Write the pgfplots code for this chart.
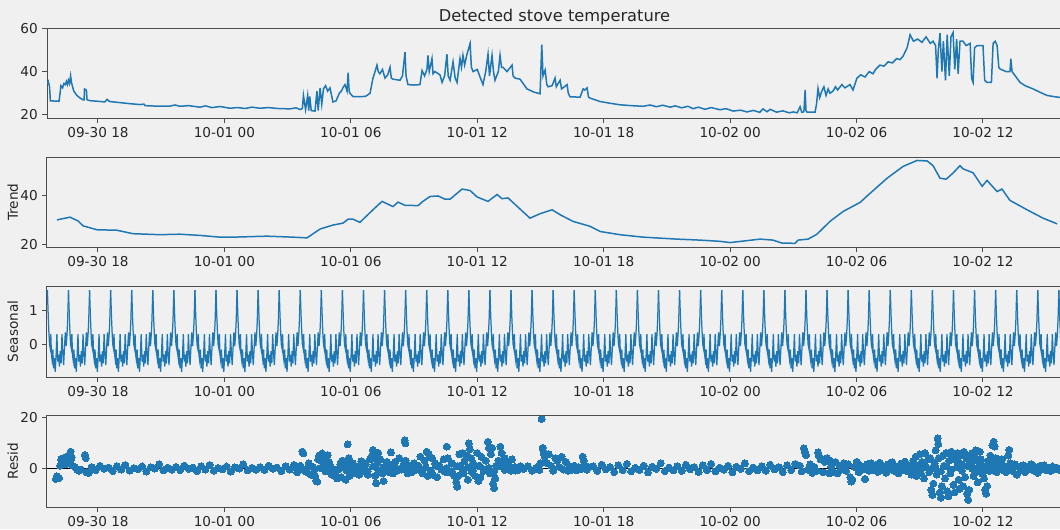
\documentclass[border=0pt]{standalone}
\usepackage{fontspec}
\setmainfont{DejaVu Sans}
\usepackage{pgfplots}
\usepackage{pgfplotstable}
\pgfplotsset{compat=1.18}
\definecolor{mplblue}{HTML}{1F77B4}
\definecolor{bgcol}{HTML}{F0F0F0}
\definecolor{spinecol}{HTML}{4D4D4D}
\definecolor{labcol}{HTML}{262626}
\newcommand{\ticksize}{\fontsize{10.9pt}{13pt}\selectfont}
\newcommand{\titlesize}{\fontsize{13pt}{15.6pt}\selectfont}

\pgfplotstableread{
t s
0.000 1.58
0.040 0.80
0.070 0.35
0.100 0.00
0.130 -0.10
0.160 0.30
0.190 -0.30
0.220 -0.45
0.260 -0.15
0.290 -0.70
0.330 -0.40
0.370 -0.80
0.410 -0.35
0.450 0.30
0.490 -0.50
0.530 -0.30
0.570 -0.65
0.610 -0.20
0.650 -0.55
0.690 0.30
0.730 -0.25
0.770 -0.60
0.810 -0.10
0.850 0.35
0.890 -0.05
0.930 0.30
0.960 0.70
1.000 1.58
}\seasonal

\pgfplotstableread{
h v
-2.42 34.5
-2.36 35.5
-2.30 33
-2.26 26.5
-2.00 26.4
-1.85 26.3
-1.80 30
-1.76 33.5
-1.68 32.5
-1.62 34.5
-1.55 34
-1.50 35.5
-1.45 34
-1.40 36
-1.35 34.5
-1.30 38
-1.26 35
-1.15 31
-1.00 29
-0.85 27.8
-0.71 27
-0.66 27
-0.64 32
-0.55 31.5
-0.52 27
-0.38 26.6
0.00 26.3
0.33 26.0
0.43 27.2
0.55 26.2
1.04 25.7
1.52 25.2
2.00 24.8
2.18 25.0
2.23 24.3
2.70 24.1
3.42 24.1
3.65 24.6
3.90 24.0
4.30 24.3
4.84 23.6
5.10 24.2
5.40 23.4
5.80 23.9
6.26 23.1
6.60 23.4
7.00 23.0
7.30 23.6
7.69 23.1
8.10 23.4
8.50 23.0
8.80 22.9
9.11 22.8
9.40 23.3
9.59 22.5
9.70 23.0
9.75 29.0
9.85 22.5
9.95 29
10.00 22
10.05 28.5
10.12 22
10.30 21.8
10.39 31
10.45 22
10.54 32.5
10.62 25
10.70 32
10.80 33.5
10.90 31
11.01 32.5
11.15 26
11.30 26.5
11.45 30
11.55 31
11.65 33
11.72 34
11.82 31
11.87 39.5
11.92 31
11.96 30
12.10 28.5
12.43 28.4
12.70 28.6
12.91 30
13.05 37
13.15 40
13.24 43
13.30 40
13.38 39
13.50 41
13.62 37
13.75 38.5
13.86 42
13.92 37
14.00 36.5
14.33 36
14.45 38
14.57 49
14.62 38
14.71 34
15.00 33.8
15.28 34
15.38 40.5
15.50 38
15.61 41
15.66 47.5
15.72 40
15.85 46
15.90 39
15.99 40
16.23 38.5
16.33 35
16.45 38
16.56 48
16.62 38
16.71 36
16.85 44.5
16.95 37
17.04 35
17.18 46
17.25 42
17.32 47.5
17.40 43
17.51 48
17.66 53
17.72 42
17.80 40
18.00 41
18.13 37.5
18.27 34
18.40 40
18.51 48
18.58 38
18.70 47.5
18.77 40
18.84 36
19.00 40
19.08 47.5
19.15 42
19.22 42
19.41 40
19.65 43
19.70 38
19.79 37
20.03 36.5
20.36 32
20.70 30.5
20.98 29.8
21.06 52.4
21.12 38
21.22 40.7
21.30 34
21.36 33
21.55 33.5
21.69 37
21.75 33
21.93 36
22.00 32
22.26 34
22.32 30
22.40 28.4
22.88 28.2
23.02 32
23.10 31.5
23.21 32.5
23.28 28.2
23.35 27.8
23.83 26.2
24.30 25.4
24.77 24.7
25.30 24.3
25.87 24.0
26.20 24.6
26.50 23.8
26.80 24.5
27.15 23.6
27.40 24.2
27.70 23.3
28.00 24.0
28.24 22.9
28.50 23.6
28.80 22.6
29.10 23.4
29.52 22.4
29.80 22.9
30.14 21.8
30.50 22.2
30.80 21.4
31.10 22.1
31.40 21.2
31.56 22.8
31.75 21.5
31.90 22.6
32.20 21.3
32.50 21.9
32.80 21.0
33.00 21.4
33.18 21.0
33.32 23.8
33.40 21.2
33.50 21.5
33.56 31.5
33.60 22
33.65 21.3
34.03 21.3
34.10 25
34.17 32.2
34.25 28
34.35 31
34.45 33
34.55 29
34.65 32
34.74 30
34.88 31
35.00 33
35.10 31.5
35.30 34
35.45 32.5
35.69 34
35.83 31.5
35.95 35
36.02 37
36.20 38.5
36.40 37.5
36.60 40
36.78 39
36.90 41
37.11 43
37.30 42.5
37.50 44.5
37.70 44
37.90 46
38.06 45.5
38.20 47
38.40 51
38.54 57
38.70 54
38.90 55
39.10 53.5
39.30 56
39.50 53
39.63 54
39.75 52
39.82 36.9
39.88 50
39.96 57.7
40.05 40
40.12 54
40.22 36
40.30 57
40.40 38
40.48 56
40.58 58
40.66 41
40.75 55
40.82 39
40.91 54
41.05 54
41.20 52
41.39 53
41.46 37
41.53 35
41.60 51
41.72 52
42.00 52
42.08 36
42.19 35
42.40 35
42.48 53
42.58 54
42.67 52
42.75 42
42.81 41.2
43.10 40
43.28 40
43.32 46
43.38 40
43.76 35
44.00 33.5
44.38 32
44.70 30.5
45.04 29
45.40 28.4
45.75 28
}\observed

\pgfplotstableread{
h v
-1.95 30.1
-1.33 31.2
-0.95 29.7
-0.71 27.7
-0.05 26.1
0.90 25.9
1.66 24.5
2.94 24.1
3.89 24.3
4.84 23.8
5.79 23.1
6.41 23.1
8.02 23.5
9.25 23.1
9.92 22.8
10.54 26.4
11.15 28.0
11.63 28.8
11.87 30.4
12.10 30.4
12.43 29.1
13.05 34.2
13.48 37.6
14.00 35.5
14.24 37.3
14.57 36.0
15.19 35.9
15.42 37.6
15.76 39.6
16.14 39.8
16.47 38.5
16.71 38.5
17.28 42.6
17.66 42.0
17.99 39.4
18.51 37.6
18.94 40.4
19.17 38.7
19.46 39.0
19.89 35.6
20.50 30.8
20.98 32.6
21.55 34.2
21.93 32.2
22.54 29.5
23.35 27.5
23.83 25.4
24.77 24.1
25.87 23.1
27.48 22.3
28.57 21.9
29.52 21.4
30.00 20.9
31.42 22.3
32.04 21.9
32.46 20.7
33.08 20.6
33.22 21.9
33.70 22.3
34.12 24.3
34.74 29.5
35.36 33.5
36.17 37.2
36.50 39.8
37.45 47.0
38.21 51.8
38.87 54.2
39.35 54.0
39.63 52.1
39.96 47.0
40.25 46.6
40.58 49.1
40.91 52.1
41.05 50.8
41.53 49.2
41.96 43.7
42.19 46.1
42.67 41.6
42.90 42.6
43.28 38.0
44.09 34.2
44.85 30.8
45.52 28.5
}\trend

\pgfplotsset{
  dec/.style={
    scale only axis, width=812pt, anchor=north west,
    xmin=-2.42, xmax=45.75,
    xtick={0,6,12,18,24,30,36,42},
    xticklabels={09-30 18,10-01 00,10-01 06,10-01 12,10-01 18,10-02 00,10-02 06,10-02 12},
    tick pos=left, tick align=outside,
    major tick length=3.8pt,
    axis line style={spinecol, line width=0.8pt},
    major tick style={spinecol, line width=0.8pt},
    tick label style={font=\ticksize, text=labcol},
    /pgf/number format/assume math mode=true,
    every axis y label/.style={at={(rel axis cs:0,0.5)}, rotate=90, anchor=center, yshift=27.4pt, font=\ticksize, text=labcol},
    axis background/.style={fill=bgcol},
  }
}

\begin{document}
\begin{tikzpicture}
\fill[bgcol] (0pt,0pt) rectangle (848pt,-423.2pt);

% Panel 1: observed
\begin{axis}[dec, at={(37.6pt,-22.4pt)}, height=72pt,
  ymin=18.6, ymax=60.1, ytick={20,40,60},
  title={Detected stove temperature},
  title style={at={(rel axis cs:0.5,1)}, anchor=center, yshift=2.5pt, font=\titlesize, text=labcol}]
\addplot[mplblue, line width=1.2pt] table[x=h, y=v] {\observed};
\end{axis}

% Panel 2: trend
\begin{axis}[dec, at={(37.6pt,-125.6pt)}, height=72.4pt,
  ymin=18.9, ymax=55.6, ytick={20,40}, ylabel={Trend}]
\addplot[mplblue, line width=1.2pt] table[x=h, y=v] {\trend};
\end{axis}

% Panel 3: seasonal
\begin{axis}[dec, at={(37.6pt,-228.8pt)}, height=72.8pt,
  ymin=-0.95, ymax=1.70, ytick={0,1}, ylabel={Seasonal}]
\pgfplotsinvokeforeach{-3,...,45}{
  \addplot[mplblue, line width=1.0pt] table[x expr=\thisrow{t}+#1+0.6, y=s] {\seasonal};
}
\end{axis}

% Panel 4: residual
\begin{axis}[dec, at={(37.6pt,-332pt)}, height=73.6pt,
  ymin=-15.2, ymax=20.9, ytick={0,20}, ylabel={Resid}]
\addplot[black, line width=1pt] coordinates {(-2.42,0) (45.75,0)};
\addplot[color=mplblue, only marks, mark=*, mark size=2.8pt, mark options={fill=mplblue, draw=mplblue, line width=0pt}] coordinates {
(-2.0,-4.2) (-1.95,-3.2) (-1.85,-3.8) (-1.80,1.0) (-1.75,3.5) (-1.70,2.5) (-1.65,4.0) (-1.60,3.0) (-1.55,1.5) (-1.50,4.5)
(-1.45,3.5) (-1.40,5.0) (-1.35,2.5) (-1.30,6.5) (-1.25,4.2) (-1.20,1.0) (-1.10,0.5) (-1.00,-0.5) (-0.90,-1.0) (-0.80,-0.5)
(-0.62,5.2) (-0.58,4.0) (-0.55,-1.5) (-0.45,-1.8) (-0.35,-0.8)
(-0.3,0.5) (-0.1,-0.7) (0.1,1.0) (0.3,-0.2) (0.5,0.3) (0.7,-1.1) (0.9,0.8) (1.1,-0.5) (1.3,1.3) (1.5,-0.9)
(1.7,0.1) (1.9,-0.4) (2.1,0.7) (2.3,-1.3) (2.5,0.4) (2.7,-0.1) (2.9,1.5) (3.1,-0.8) (3.3,0.2) (3.5,-0.6)
(3.7,0.5) (3.9,-0.7) (4.1,1.0) (4.3,-0.2) (4.5,0.3) (4.7,-1.1) (4.9,0.8) (5.1,-0.5) (5.3,1.3) (5.5,-0.9)
(5.7,0.1) (5.9,-0.4) (6.1,0.7) (6.3,-1.3) (6.5,0.4) (6.7,-0.1) (6.9,1.5) (7.1,-0.8) (7.3,0.2) (7.5,-0.6)
(7.7,0.5) (7.9,-0.7) (8.1,1.0) (8.3,-0.2) (8.5,0.3) (8.7,-1.1) (8.9,0.8) (9.1,-0.5) (9.3,1.3) (9.45,-1.6)
(9.55,0.4) (9.8,-0.9) (10.05,0.9) (10.3,-0.3) (10.55,0.1) (10.8,-1.2) (11.05,0.7) (11.3,-0.6) (11.55,0.4) (11.8,-0.9)
(12.05,0.9) (12.3,-0.3) (12.55,0.1) (12.8,-1.2) (13.05,0.7) (13.3,-0.6) (13.55,0.4) (13.8,-0.9) (14.05,0.9) (14.3,-0.3)
(14.55,0.1) (14.8,-1.2) (15.05,0.7) (15.3,-0.6) (15.55,0.4) (15.8,-0.9) (16.05,0.9) (16.3,-0.3) (16.55,0.1) (16.8,-1.2)
(17.05,0.7) (17.3,-0.6) (17.55,0.4) (17.8,-0.9) (18.05,0.9) (18.3,-0.3) (18.55,0.1) (18.8,-1.2) (19.05,0.7) (19.3,-0.6)
(19.55,0.4) (19.8,-0.9) (20.05,0.9)
(9.6,1.0) (9.7,6.5) (9.75,5.8) (9.8,-0.5) (9.9,-1.5) (10.0,2.0) (10.1,-2.5) (10.2,0.5) (10.3,-3.0) (10.35,-4.8)
(10.4,-5.2) (10.45,3.5) (10.5,5.0) (10.55,4.0) (10.6,3.0) (10.65,5.8) (10.7,2.0) (10.75,4.5) (10.8,-1.0) (10.85,3.0)
(10.9,5.2) (10.95,2.5) (11.0,0.5) (11.1,-2.5) (11.2,-1.5) (11.3,-2.8) (11.35,-4.0) (11.4,-0.5) (11.5,1.5) (11.55,-3.5)
(11.6,3.0) (11.7,2.0) (11.75,-4.5) (11.8,1.5) (11.85,9.4) (11.9,4.0) (11.95,-3.0) (12.0,-1.0) (12.1,2.0) (12.2,-2.0)
(12.3,0.5) (12.4,-2.5) (12.5,2.8) (12.6,-1.0) (12.7,1.5) (12.8,-2.5) (12.9,3.5) (13.0,5.0) (13.05,7.2) (13.1,4.0)
(13.15,-3.0) (13.2,-5.9) (13.25,2.0) (13.3,6.0) (13.35,-1.5) (13.4,3.5) (13.5,-2.0) (13.55,-5.0) (13.6,0.5) (13.7,2.5)
(13.8,-1.5) (13.9,6.2) (13.95,1.0) (14.0,-2.0) (14.1,2.5) (14.2,-1.0) (14.3,4.0) (14.4,-0.5) (14.5,1.5) (14.55,11.0)
(14.58,9.8) (14.6,3.0) (14.7,-2.0) (14.8,1.0) (14.9,-1.5) (15.0,2.0) (15.1,-0.5) (15.2,1.0) (15.3,4.6) (15.4,-2.0)
(15.5,3.0) (15.6,6.5) (15.65,-3.0) (15.7,5.5) (15.8,-1.0) (15.85,4.0) (15.9,-2.5) (16.0,2.0) (16.1,-3.5) (16.2,1.0)
(16.3,-0.5) (16.4,3.5) (16.5,-1.5) (16.55,8.5) (16.6,4.0) (16.7,-1.5) (16.8,2.0) (16.9,-3.0) (17.0,-5.5) (17.05,-7.2)
(17.1,-3.0) (17.15,5.5) (17.2,1.0) (17.3,6.0) (17.35,-2.0) (17.4,3.0) (17.5,5.0) (17.55,-4.5) (17.6,9.8) (17.65,7.5)
(17.7,4.0) (17.75,-1.5) (17.8,2.0) (17.9,-3.0) (18.0,6.0) (18.05,-5.0) (18.1,1.0) (18.15,-3.5) (18.2,4.5) (18.3,-1.0)
(18.4,3.0) (18.5,10.4) (18.55,8.0) (18.6,-2.0) (18.65,5.5) (18.7,8.0) (18.75,-6.0) (18.8,-7.8) (18.85,-4.0) (18.9,1.0)
(19.0,3.0) (19.1,8.5) (19.15,6.0) (19.2,2.0) (19.3,4.0) (19.4,0.5) (19.5,2.5) (19.6,-1.0) (19.65,3.5) (19.8,0.5)
(19.9,-0.8) (20.0,0.6) (20.2,-0.3) (20.4,0.8) (20.6,-1.0) (20.8,0.2) (20.95,-0.6) (21.0,2.0) (21.05,19.3) (21.1,8.0)
(21.15,6.0) (21.2,4.5) (21.3,2.0) (21.4,5.5) (21.5,1.0) (21.6,-1.0) (21.7,4.0) (21.8,3.0) (21.9,0.5) (22.0,4.5)
(22.1,-0.5) (22.2,2.5) (22.3,-1.0) (22.4,0.8) (22.5,-0.5) (22.6,1.0) (22.7,-0.8) (22.8,0.5) (22.9,-0.4) (23.0,4.6)
(23.05,3.0) (23.1,1.0) (23.2,-0.6) (23.3,0.4)
(23.5,0.8) (23.7,-1.0) (23.9,1.4) (24.1,-0.4) (24.3,0.5) (24.5,-1.5) (24.7,1.1) (24.9,-0.7) (25.1,1.7) (25.3,-1.2)
(25.5,0.2) (25.7,-0.6) (25.9,1.0) (26.1,-1.6) (26.3,0.6) (26.5,-0.2) (26.7,1.9) (26.9,-1.1) (27.1,0.3) (27.3,-0.8)
(27.5,0.8) (27.7,-1.0) (27.9,1.4) (28.1,-0.4) (28.3,0.5) (28.5,-1.5) (28.7,1.1) (28.9,-0.7) (29.1,1.7) (29.3,-1.2)
(29.5,0.2) (29.7,-0.6) (29.9,1.0) (30.1,-1.6) (30.3,0.6) (30.5,-0.2) (30.7,1.9) (30.9,-1.1) (31.1,0.3) (31.3,-0.8)
(31.5,0.8) (31.7,-1.0) (31.9,1.4) (32.1,-0.4) (32.3,0.5) (32.5,-1.5) (32.7,1.1) (32.9,-0.7) (33.1,1.7)
(33.3,1.0) (33.4,-1.2) (33.5,7.8) (33.55,6.5) (33.6,5.2) (33.7,-0.5) (33.8,1.5) (33.9,-1.8) (34.0,0.5) (34.1,-1.0)
(34.17,6.2) (34.22,4.8) (34.3,3.5) (34.4,-1.5) (34.5,2.5) (34.6,4.0) (34.7,-2.0) (34.75,3.0) (34.8,0.5) (34.9,-1.5)
(35.0,2.5) (35.1,-2.0) (35.2,1.0) (35.3,-0.5) (35.4,2.0) (35.5,-1.0) (35.6,1.5) (35.7,-3.5) (35.75,-5.2) (35.8,-4.5)
(35.9,0.5) (36.0,2.5) (36.1,-1.5) (36.2,1.0) (36.3,-0.5) (36.4,-4.2) (36.5,1.5) (36.6,-1.0) (36.7,2.0) (36.8,-0.8)
(36.9,1.2) (37.0,-1.4) (37.1,2.2) (37.2,-0.6) (37.3,0.8) (37.4,-1.8) (37.5,1.5) (37.6,-0.3) (37.7,2.4) (37.8,-1.0)
(37.9,0.6) (38.0,-2.0) (38.1,1.8) (38.2,-0.5) (38.3,2.6) (38.4,-1.2) (38.5,0.8) (38.6,-2.5)
(38.75,0.4) (39.0,-0.9) (39.25,0.9) (39.5,-0.3) (39.75,0.1) (40.0,-1.2) (40.25,0.7) (40.5,-0.6) (40.75,0.4) (41.0,-0.9)
(41.25,0.9) (41.5,-0.3) (41.75,0.1) (42.0,-1.2) (42.25,0.7) (42.5,-0.6) (42.75,0.4) (43.0,-0.9) (43.25,0.9)
(38.7,3.0) (38.75,-1.5) (38.8,4.5) (38.85,-3.0) (38.9,1.0) (39.0,5.5) (39.05,-2.0) (39.1,2.5) (39.2,-4.0) (39.25,6.0)
(39.3,0.5) (39.4,3.5) (39.45,-1.5) (39.5,4.0) (39.55,-8.5) (39.6,-10.5) (39.65,-6.0) (39.7,2.0) (39.75,7.0) (39.8,-2.5)
(39.85,11.8) (39.88,9.5) (39.9,4.0) (39.95,-9.5) (40.0,-11.5) (40.05,-7.0) (40.1,5.0) (40.15,1.0) (40.2,-4.0) (40.25,6.0)
(40.3,-9.0) (40.35,-11.0) (40.4,3.0) (40.45,-2.0) (40.5,6.5) (40.55,4.5) (40.6,-6.5) (40.65,-9.5) (40.7,5.5) (40.75,3.0)
(40.8,6.0) (40.85,-4.5) (40.9,-8.0) (40.95,5.0) (41.0,1.5) (41.05,-7.0) (41.1,6.5) (41.15,-3.5) (41.2,4.0) (41.25,-10.0)
(41.3,-12.4) (41.35,-8.5) (41.4,5.0) (41.45,2.0) (41.5,6.0) (41.55,-3.0) (41.6,4.5) (41.65,7.0) (41.7,-1.0) (41.75,-5.5)
(41.8,2.5) (41.85,6.5) (41.9,3.5) (41.95,-2.0) (42.0,1.0) (42.05,-4.0) (42.1,-8.5) (42.15,-10.0) (42.2,-7.0) (42.25,3.0)
(42.3,-1.0) (42.35,5.0) (42.4,2.0) (42.45,9.0) (42.5,10.4) (42.55,8.5) (42.6,4.0) (42.65,-1.5) (42.7,2.0) (42.8,-0.5)
(42.9,3.5) (43.0,1.0) (43.1,-1.5) (43.2,5.0) (43.25,7.2) (43.3,2.0) (43.4,-1.0) (43.5,1.5) (43.6,-2.5) (43.7,0.5)
(43.8,-0.8) (43.9,1.2) (44.0,-1.5) (44.1,0.6) (44.2,-0.3) (44.3,1.6) (44.4,-0.9) (44.5,0.4) (44.6,-1.8) (44.7,0.9)
(44.8,-0.4) (44.9,1.1) (45.0,-0.7) (45.1,0.3) (45.2,-1.0) (45.3,0.7) (45.4,-0.3) (45.5,0.2) (45.6,-0.6)
};
\end{axis}

\pgfresetboundingbox
\path[use as bounding box] (0pt,0pt) rectangle (848pt,-423.2pt);
\end{tikzpicture}
\end{document}
